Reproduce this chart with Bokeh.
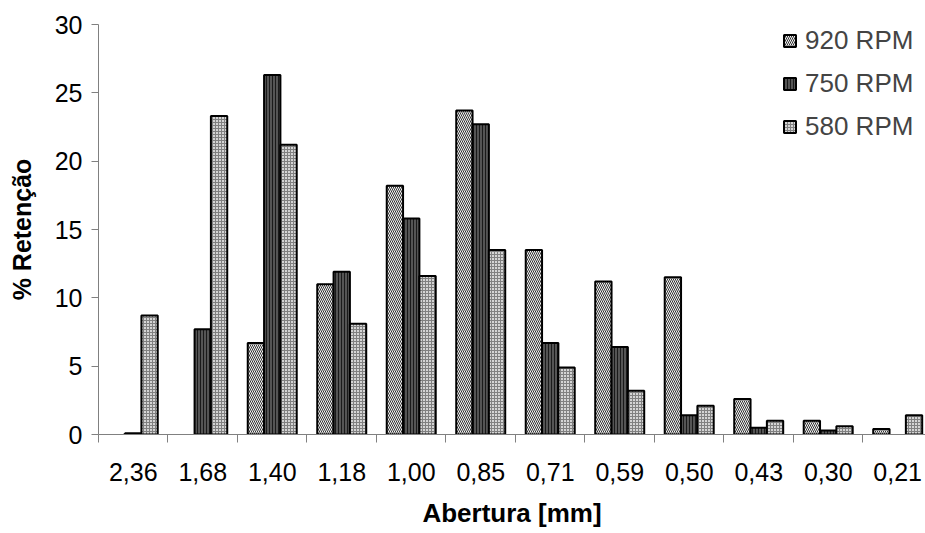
from bokeh.plotting import figure
from bokeh.models import Range1d, FixedTicker, ColumnDataSource, Legend, LegendItem
from bokeh.transform import dodge
from bokeh.embed import file_html
from bokeh.resources import INLINE

cats = ["2,36", "1,68", "1,40", "1,18", "1,00", "0,85", "0,71", "0,59", "0,50", "0,43", "0,30", "0,21"]
rpm920 = [0, 0, 6.7, 11.0, 18.2, 23.7, 13.5, 11.2, 11.5, 2.6, 1.0, 0.4]
rpm750 = [0.1, 7.7, 26.3, 11.9, 15.8, 22.7, 6.7, 6.4, 1.4, 0.5, 0.3, 0]
rpm580 = [8.7, 23.3, 21.2, 8.1, 11.6, 13.5, 4.9, 3.2, 2.1, 1.0, 0.6, 1.4]
series_names = ["920 RPM", "750 RPM", "580 RPM"]
y_ticks = [0, 5, 10, 15, 20, 25, 30]

FONT = "Liberation Sans"

centers = [i + 0.5 for i in range(len(cats))]


def clean(v):
    return [x if x > 0 else float("nan") for x in v]


src = ColumnDataSource(dict(x=centers, s920=clean(rpm920), s750=clean(rpm750), s580=clean(rpm580)))

p = figure(width=925, height=530,
           x_range=Range1d(0, 11.9), y_range=Range1d(0, 30),
           output_backend="svg", toolbar_location=None,
           min_border_left=98, min_border_right=0, min_border_top=24, min_border_bottom=95)
p.outline_line_color = None
p.xgrid.visible = False
p.ygrid.visible = False

bw = 0.235
styles = [
    dict(fill_color="#f4f4f4", hatch_pattern="left_diagonal_line", hatch_color="#333333", hatch_scale=4, hatch_weight=1),
    dict(fill_color="#555555", hatch_pattern="vertical_line", hatch_color="#1a1a1a", hatch_scale=3, hatch_weight=1),
    dict(fill_color="#d4d4d4", hatch_pattern="cross", hatch_color="#808080", hatch_scale=3, hatch_weight=1),
]
cols = ["s920", "s750", "s580"]
offsets = [-bw, 0, bw]
renderers = []
for col, off, st in zip(cols, offsets, styles):
    r = p.vbar(x=dodge("x", off), top=col, width=bw, bottom=0, source=src,
               line_color="black", line_width=2, **st)
    renderers.append(r)

legend = Legend(items=[LegendItem(label=n, renderers=[r]) for n, r in zip(series_names, renderers)],
                location=(684, 292), border_line_color=None, background_fill_alpha=0,
                label_text_font=FONT, label_text_font_size="26px",
                glyph_width=15, glyph_height=15, label_standoff=8,
                label_height=28, spacing=12, padding=4, margin=0)
p.add_layout(legend)

# x axis
p.xaxis.ticker = FixedTicker(ticks=centers, minor_ticks=list(range(13)))
p.xaxis.major_label_overrides = {c: lab for c, lab in zip(centers, cats)}
p.xaxis.major_tick_line_color = None
p.xaxis.major_tick_out = 0
p.xaxis.major_tick_in = 0
p.xaxis.minor_tick_out = 8
p.xaxis.minor_tick_in = 0
p.xaxis.minor_tick_line_color = "#808080"
p.xaxis.axis_line_color = "#808080"
p.xaxis.major_label_text_font = FONT
p.xaxis.major_label_text_font_size = "25px"
p.xaxis.major_label_text_color = "black"
p.xaxis.major_label_standoff = 20
p.xaxis.axis_label = "Abertura [mm]"
p.xaxis.axis_label_text_font = FONT
p.xaxis.axis_label_text_font_size = "26px"
p.xaxis.axis_label_text_font_style = "bold"
p.xaxis.axis_label_text_color = "black"
p.xaxis.axis_label_standoff = 14

# y axis
p.yaxis.ticker = FixedTicker(ticks=y_ticks, minor_ticks=[])
p.yaxis.major_tick_out = 7
p.yaxis.major_tick_in = 0
p.yaxis.major_tick_line_color = "#808080"
p.yaxis.axis_line_color = "#808080"
p.yaxis.major_label_text_font = FONT
p.yaxis.major_label_text_font_size = "25px"
p.yaxis.major_label_text_color = "black"
p.yaxis.major_label_standoff = 9
p.yaxis.axis_label = "% Retenção"
p.yaxis.axis_label_text_font = FONT
p.yaxis.axis_label_text_font_size = "25px"
p.yaxis.axis_label_text_font_style = "bold"
p.yaxis.axis_label_text_color = "black"
p.yaxis.axis_label_standoff = 16

open("out.html", "w").write(file_html(p, INLINE))
